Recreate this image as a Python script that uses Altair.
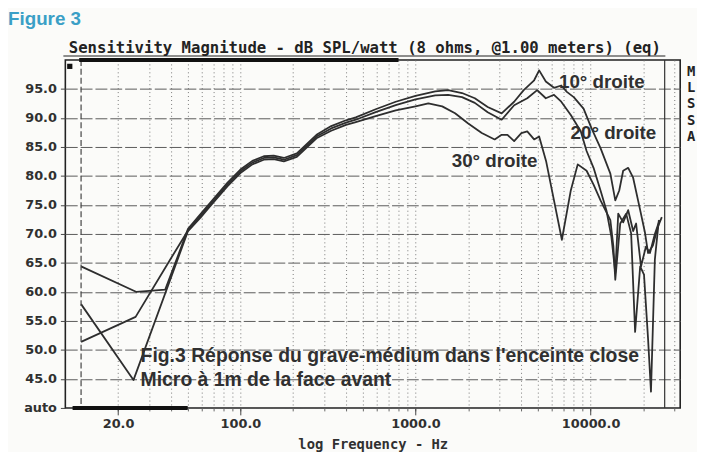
import altair as alt
import pandas as pd

# ---------------- data ----------------
freq_10 = [12.3, 25.5, 37.2, 44.1, 50.2, 59.5, 66.8, 84.2, 100, 117, 136, 155, 177, 210, 239, 272, 330, 401,
           456, 592, 771, 1000, 1297, 1536, 1844, 2182, 2584, 3105, 3660, 4150, 4760, 5085, 5550, 6180, 6800,
           7320, 8015, 9120, 10130, 11400, 12970, 13840, 14580, 15350, 16400, 17500, 19200, 20460, 21300,
           22700, 24220, 25520]
db_10 = [64.4, 60.0, 60.4, 66.3, 70.9, 73.5, 75.3, 78.8, 81.1, 82.6, 83.4, 83.5, 83.1, 83.9, 85.5, 87.1, 88.6, 89.6,
         90.1, 91.5, 92.8, 93.8, 94.6, 94.8, 94.3, 93.4, 91.9, 90.8, 92.8, 94.8, 96.5, 98.2, 96.3, 95.2, 95.6,
         94.5, 93.6, 91.6, 88.2, 84.8, 80.4, 75.8, 77.5, 80.9, 81.4, 79.7, 74.1, 70.2, 66.7,
         68.0, 71.2, 72.9]

freq_20 = [12.3, 25.2, 40.3, 50.2, 59.5, 66.8, 84.2, 100, 117, 136, 155, 177, 210, 239, 272, 330, 401,
           456, 592, 771, 1000, 1297, 1536, 1844, 2182, 2584, 3105, 3660, 4348, 4954, 5550, 6180, 6800,
           7709, 8787, 9490, 10400, 11400, 12310, 13150, 13840, 14390, 15350, 16400, 17500, 18200, 19410,
           20700, 21830, 23290, 24800]
db_20 = [51.4, 55.7, 65.9, 70.6, 73.2, 75.0, 78.5, 80.8, 82.3, 83.1, 83.2, 82.8, 83.6, 85.2, 86.8, 88.2, 89.2,
         89.7, 91.0, 92.2, 93.2, 93.9, 94.0, 93.6, 92.6, 91.0, 89.7, 92.2, 93.4, 94.8, 93.4, 94.0, 92.8,
         90.5, 87.7, 84.3, 81.4, 77.5, 74.1, 69.5, 63.3, 73.5, 72.0, 74.1, 70.5, 71.8, 64.4,
         67.8, 66.7, 70.0, 72.4]

freq_30 = [12.3, 24.5, 50.2, 59.5, 66.8, 84.2, 100, 117, 136, 155, 177, 210, 239, 272, 330, 401,
           456, 592, 771, 1000, 1184, 1421, 1683, 1992, 2391, 2833, 3105, 3352, 3660, 4024, 4348, 4760,
           5085, 5568, 6180, 6856, 7709, 8446, 9490, 10400, 11400, 12970, 13500, 13840, 14770, 15970,
           17050, 17960, 19200, 20190, 21300, 22130, 23290, 24550]
db_30 = [57.9, 44.8, 70.5, 72.9, 74.7, 78.2, 80.5, 82.0, 82.8, 82.9, 82.5, 83.3, 84.9, 86.5, 87.8, 88.8,
         89.3, 90.3, 91.3, 92.0, 92.5, 92.0, 90.8, 89.1, 87.4, 86.3, 87.1, 87.1, 86.0, 87.4, 87.7, 86.3,
         86.8, 82.6, 75.8, 69.0, 77.5, 82.0, 80.9, 78.5, 75.8, 72.4, 67.8, 62.1, 71.8, 73.5,
         70.1, 53.1, 64.4, 63.0, 51.9, 42.8, 65.6, 72.4]

curve_names = ["10° droite", "20° droite", "30° droite"]

label_text = ["10° droite", "20° droite", "30° droite"]
label_f = [11600, 13500, 2830]
label_db = [96.2, 87.4, 82.6]

caption_text = ["Fig.3 Réponse du grave-médium dans l'enceinte close", "Micro à 1m de la face avant"]
caption_f = [26.9, 26.9]
caption_db = [48.9, 44.8]

x_minor = [20, 30, 40, 50, 60, 70, 80, 90, 100, 200, 300, 400, 500, 600, 700, 800, 900,
           1000, 2000, 3000, 4000, 5000, 6000, 7000, 8000, 9000, 10000, 20000, 30000]
x_major = [20, 100, 1000, 10000]
y_ticks = [40, 45, 50, 55, 60, 65, 70, 75, 80, 85, 90, 95]

start_marker_f = [12.3]
end_marker_f = [26500]
top_bar = {"f1": [12.0], "f2": [800.0], "db": [100.0]}
bottom_bar = {"f1": [11.0], "f2": [50.0], "db": [40.0]}
corner_marker = {"f": [10.6], "db": [98.9]}

# ---------------- build table ----------------
rows = []
for name, fs, ds in zip(curve_names, [freq_10, freq_20, freq_30], [db_10, db_20, db_30]):
    for i, (f, d) in enumerate(zip(fs, ds)):
        rows.append({"curve": name, "f": f, "db": d, "order": i})
df = pd.DataFrame(rows)

xscale = alt.Scale(type="log", domain=[10, 32500], nice=False)
yscale = alt.Scale(domain=[40, 100], nice=False, zero=False)

INK = "#303030"
LINE = "#2e2e2e"

lines = alt.Chart(df).mark_line(color=LINE, strokeWidth=1.8, strokeJoin="round").encode(
    x=alt.X("f:Q", scale=xscale, axis=alt.Axis(
        values=x_minor, grid=True, gridDash=[1, 3], gridColor="#777777", gridWidth=1,
        labels=False, ticks=True, tickSize=3, tickColor="#666666", domain=False,
        title=None, orient="bottom")),
    y=alt.Y("db:Q", scale=yscale, axis=alt.Axis(
        values=y_ticks, grid=True, gridDash=[12, 3], gridColor="#5a5a5a", gridWidth=1,
        labelExpr="datum.value == 40 ? 'auto' : format(datum.value, '.1f')",
        labelFont="DejaVu Sans", labelFontWeight="bold", labelFontSize=13, labelColor=INK,
        tickSize=5, tickColor="#444444", labelPadding=4, domain=False, title=None)),
    detail="curve:N",
    order="order:Q",
)

major_axis = alt.Chart(pd.DataFrame({"f": x_major})).mark_point(opacity=0).encode(
    x=alt.X("f:Q", scale=xscale, axis=alt.Axis(
        values=x_major, format=".1f", grid=False, domain=False, tickSize=7, tickColor="#444444",
        labelFont="DejaVu Sans", labelFontWeight="bold", labelFontSize=13, labelColor=INK,
        labelPadding=3, orient="bottom",
        title="log Frequency - Hz", titleFont="DejaVu Sans Mono", titleFontWeight="bold",
        titleFontSize=14, titleColor=INK, titlePadding=7)),
    y=alt.value(352),
)

rules_v = alt.Chart(pd.DataFrame({"f": start_marker_f})).mark_rule(
    color="#444444", strokeWidth=1.2, strokeDash=[6, 3]).encode(
    x=alt.X("f:Q", scale=xscale, axis=None))
rules_end = alt.Chart(pd.DataFrame({"f": end_marker_f})).mark_rule(
    color="#333333", strokeWidth=1.2).encode(
    x=alt.X("f:Q", scale=xscale, axis=None))

bar_top = alt.Chart(pd.DataFrame(top_bar)).mark_rule(color="#111111", strokeWidth=4).encode(
    x=alt.X("f1:Q", scale=xscale, axis=None), x2="f2:Q",
    y=alt.Y("db:Q", scale=yscale, axis=None))
bar_bottom = alt.Chart(pd.DataFrame(bottom_bar)).mark_rule(color="#111111", strokeWidth=4).encode(
    x=alt.X("f1:Q", scale=xscale, axis=None), x2="f2:Q",
    y=alt.Y("db:Q", scale=yscale, axis=None))
corner = alt.Chart(pd.DataFrame(corner_marker)).mark_square(color="#111111", size=28, opacity=1).encode(
    x=alt.X("f:Q", scale=xscale, axis=None), y=alt.Y("db:Q", scale=yscale, axis=None))

labels = alt.Chart(pd.DataFrame({"t": label_text, "f": label_f, "db": label_db})).mark_text(
    font="Liberation Sans", fontSize=19, fontWeight="bold", color=INK, align="center",
    baseline="middle").encode(
    x=alt.X("f:Q", scale=xscale, axis=None), y=alt.Y("db:Q", scale=yscale, axis=None), text="t:N")

captions = alt.Chart(pd.DataFrame({"t": caption_text, "f": caption_f, "db": caption_db})).mark_text(
    font="Liberation Sans", fontSize=19.6, fontWeight="bold", color=INK, align="left",
    baseline="middle").encode(
    x=alt.X("f:Q", scale=xscale, axis=None), y=alt.Y("db:Q", scale=yscale, axis=None), text="t:N")

fig_label = alt.Chart(pd.DataFrame({"t": ["Figure 3"]})).mark_text(
    font="Liberation Sans", fontSize=19, fontWeight="bold", color="#3a9fc6", align="left",
    baseline="middle").encode(text="t:N", x=alt.value(-58), y=alt.value(-41))

title = alt.Chart(pd.DataFrame({"t": ["Sensitivity Magnitude - dB SPL/watt (8 ohms, @1.00 meters) (eq)"]})).mark_text(
    font="DejaVu Sans Mono", fontSize=15.8, fontWeight="bold", color="#222222", align="center",
    baseline="middle").encode(text="t:N", x=alt.value(303), y=alt.value(-12))
underline = alt.Chart(pd.DataFrame({"t": ["u"]})).mark_rule(color="#222222", strokeWidth=1.2).encode(
    x=alt.value(-2), x2=alt.value(607), y=alt.value(-4))

side = alt.Chart(pd.DataFrame({"t": ["M\nL\nS\nS\nA"]})).mark_text(
    font="DejaVu Sans Mono", fontSize=14, fontWeight="bold", color="#222222", align="left",
    baseline="top", lineBreak="\n", lineHeight=16.5).encode(
    text="t:N", x=alt.value(629), y=alt.value(5))

chart = alt.layer(
    lines, major_axis, rules_v, rules_end, bar_top, bar_bottom, corner, labels, captions,
    fig_label, title, underline, side,
).resolve_axis(x="independent", y="independent").properties(
    width=622, height=352,
    autosize=alt.AutoSizeParams(type="none"),
    padding={"left": 58, "top": 50, "right": 17, "bottom": 42},
    background="#fbfbf9",
).configure_view(stroke="#222222", strokeWidth=1.6)

chart.save("out.html", embed_options={"renderer": "svg", "actions": False})
